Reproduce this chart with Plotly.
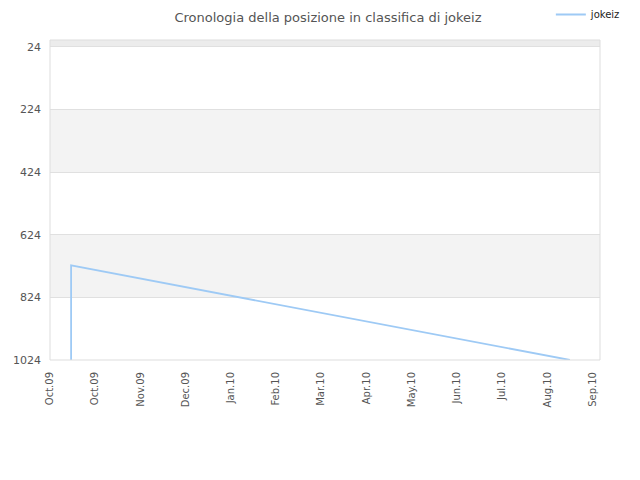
import plotly.graph_objects as go

# ranking history of jokeiz
dates = ["2009-10-15", "2009-10-15", "2010-09-11"]
ranks = [1024, 722, 1024]

y_ticks = [24, 224, 424, 624, 824, 1024]
x_tick_dates = ["2009-10-01", "2009-10-31", "2009-11-30", "2009-12-30", "2010-01-29",
                "2010-02-28", "2010-03-30", "2010-04-29", "2010-05-29", "2010-06-28",
                "2010-07-28", "2010-08-27", "2010-09-26"]
x_tick_labels = ["Oct.09", "Oct.09", "Nov.09", "Dec.09", "Jan.10", "Feb.10", "Mar.10",
                 "Apr.10", "May.10", "Jun.10", "Jul.10", "Aug.10", "Sep.10"]
y_top = 2

fig = go.Figure()
fig.add_trace(go.Scatter(x=dates, y=ranks, mode="lines", name="jokeiz",
                         line=dict(color="#9ecaf5", width=1.8)))

# alternating bands
edges = [y_top] + y_ticks
shapes = []
for i in range(len(edges) - 1):
    if i % 2 == 0:
        col = "#ececec" if i == 0 else "#f3f3f3"
        shapes.append(dict(type="rect", xref="paper", yref="y", x0=0, x1=1,
                           y0=edges[i], y1=edges[i + 1], fillcolor=col,
                           line=dict(width=0), layer="below"))
shapes.append(dict(type="rect", xref="paper", yref="paper", x0=0, x1=1, y0=0, y1=1,
                   line=dict(color="#dddddd", width=1)))

# page has an 8px body margin, so margins are pulled in by 8
fig.update_layout(
    width=640, height=480,
    margin=dict(l=42, r=48, t=32, b=128, autoexpand=False),
    paper_bgcolor="white", plot_bgcolor="white",
    font=dict(family="DejaVu Sans", color="#555555", size=11),
    title=dict(text="Cronologia della posizione in classifica di jokeiz",
               x=0.5, xanchor="center", y=0.99, yanchor="top",
               font=dict(size=13, color="#555555")),
    showlegend=True,
    legend=dict(x=1.047, xanchor="right", y=1.125, yanchor="top", itemwidth=30,
                bgcolor="rgba(0,0,0,0)", font=dict(size=10, color="#222222")),
    shapes=shapes,
)
fig.update_xaxes(type="date", range=["2009-10-01", "2010-10-01"], automargin=False,
                 tickmode="array", tickvals=x_tick_dates, ticktext=x_tick_labels,
                 tickangle=-90, tickfont=dict(size=10), showgrid=False,
                 zeroline=False, showline=False, ticks="", ticklabelstandoff=9)
fig.update_yaxes(range=[1024, y_top], tickmode="array", tickvals=y_ticks, automargin=False,
                 showgrid=True, gridcolor="#e0e0e0", zeroline=False,
                 showline=False, ticks="", tickfont=dict(size=11), ticklabelstandoff=8)

fig.write_html("out.html")
